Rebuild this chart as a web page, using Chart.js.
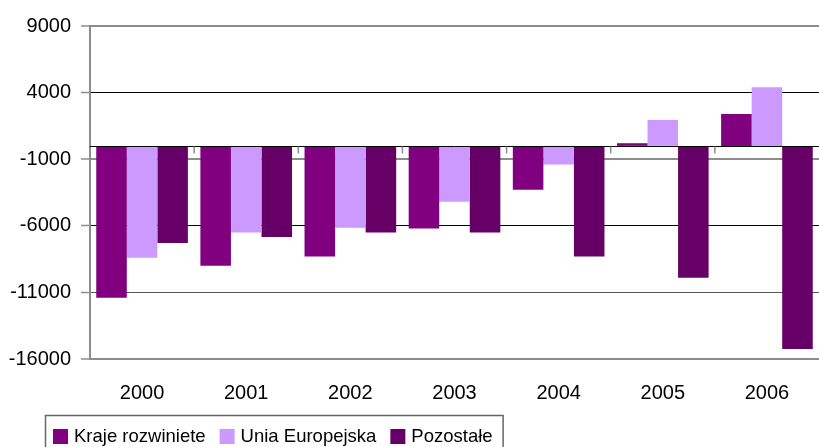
<!DOCTYPE html>
<html>
<head>
<meta charset="utf-8">
<script src="https://cdn.jsdelivr.net/npm/chart.js@4/dist/chart.umd.min.js"></script>
<style>
  html, body { margin: 0; padding: 0; background: #fff; }
  #wrap { width: 819px; height: 447px; position: relative; }
</style>
</head>
<body>
<div id="wrap"><canvas id="canvas"></canvas></div>
<script>
// Dane
const lata = ['2000', '2001', '2002', '2003', '2004', '2005', '2006'];
const krajeRozwiniete = [-11400, -9000, -8300, -6200, -3300, 200, 2400];
const uniaEuropejska = [-8400, -6500, -6150, -4200, -1400, 1950, 4400];
const pozostale = [-7300, -6850, -6500, -6500, -8300, -9900, -15250];
const yTicks = [-16000, -11000, -6000, -1000, 4000, 9000];

const FONT = 'Liberation Sans, Arial, sans-serif';

// linie siatki - kolory i grubosci jak w oryginale
function gridColor(v) {
    if (v === 4000 || v === -6000) return '#000000';
    if (v === -11000) return '#555555';
    return '#8c8c8c';
}
function gridWidth(v) {
    if (v === 4000 || v === -6000 || v === -11000) return 1;
    return 2;
}

// linia zera, kreski osi X i legenda w ramce
const extras = {
    id: 'extras',
    afterDatasetsDraw(chart) {
        const ctx = chart.ctx;
        const area = chart.chartArea;
        const x = chart.scales.x;
        const y = chart.scales.y;
        const y0 = Math.round(y.getPixelForValue(0)) + 0.5;

        ctx.save();
        ctx.strokeStyle = '#000';
        ctx.lineWidth = 1;
        ctx.beginPath();
        ctx.moveTo(area.left, y0);
        ctx.lineTo(area.right, y0);
        ctx.stroke();

        // male kreski miedzy kategoriami
        const step = x.getPixelForValue(1) - x.getPixelForValue(0);
        ctx.strokeStyle = '#8c8c8c';
        ctx.lineWidth = 1.5;
        for (let i = 0; i < lata.length - 1; i++) {
            const px = x.getPixelForValue(i) + step / 2;
            ctx.beginPath();
            ctx.moveTo(px, y0);
            ctx.lineTo(px, y0 + 7);
            ctx.stroke();
        }
        ctx.restore();
    },
    afterDraw(chart) {
        const ctx = chart.ctx;
        ctx.save();
        ctx.font = '18.5px ' + FONT;
        ctx.textBaseline = 'middle';
        let px = 53;
        const top = 429;
        chart.data.datasets.forEach(ds => {
            ctx.fillStyle = ds.backgroundColor;
            ctx.fillRect(px, top, 15, 15);
            ctx.fillStyle = '#000';
            ctx.fillText(ds.label, px + 21, top + 8);
            px += 21 + ctx.measureText(ds.label).width + 14;
        });
        ctx.strokeStyle = '#666';
        ctx.lineWidth = 1.5;
        ctx.strokeRect(45.5, 415.5, px - 14 + 10 - 45, 40);
        ctx.restore();
    }
};

const ctx = document.getElementById('canvas').getContext('2d');
new Chart(ctx, {
    type: 'bar',
    data: {
        labels: lata,
        datasets: [
            { label: 'Kraje rozwiniete', data: krajeRozwiniete, backgroundColor: '#800080' },
            { label: 'Unia Europejska', data: uniaEuropejska, backgroundColor: '#cc99ff' },
            { label: 'Pozostałe', data: pozostale, backgroundColor: '#660066' }
        ]
    },
    options: {
        responsive: true,
        maintainAspectRatio: false,
        animation: false,
        layout: { padding: { top: 26, right: 0, bottom: 41, left: 0 } },
        datasets: {
            bar: { categoryPercentage: 0.88, barPercentage: 1.0, borderWidth: 0 }
        },
        plugins: {
            legend: { display: false },
            tooltip: { enabled: false }
        },
        scales: {
            x: {
                grid: { display: false, drawTicks: false },
                border: { display: false },
                ticks: { color: '#000', padding: 22, font: { family: FONT, size: 20 } },
                afterFit(scale) { scale.height = 47; }
            },
            y: {
                min: -16000,
                max: 9000,
                afterBuildTicks(scale) { scale.ticks = yTicks.map(v => ({ value: v })); },
                grid: {
                    color: c => gridColor(c.tick.value),
                    lineWidth: c => gridWidth(c.tick.value),
                    tickColor: '#8c8c8c',
                    tickLength: 9,
                    tickWidth: 1.5
                },
                border: { display: true, color: '#8c8c8c', width: 2 },
                ticks: {
                    color: '#000',
                    padding: 10,
                    font: { family: FONT, size: 20 },
                    callback: v => String(v)
                },
                afterFit(scale) { scale.width = 90; }
            }
        }
    },
    plugins: [extras]
});
</script>
</body>
</html>
